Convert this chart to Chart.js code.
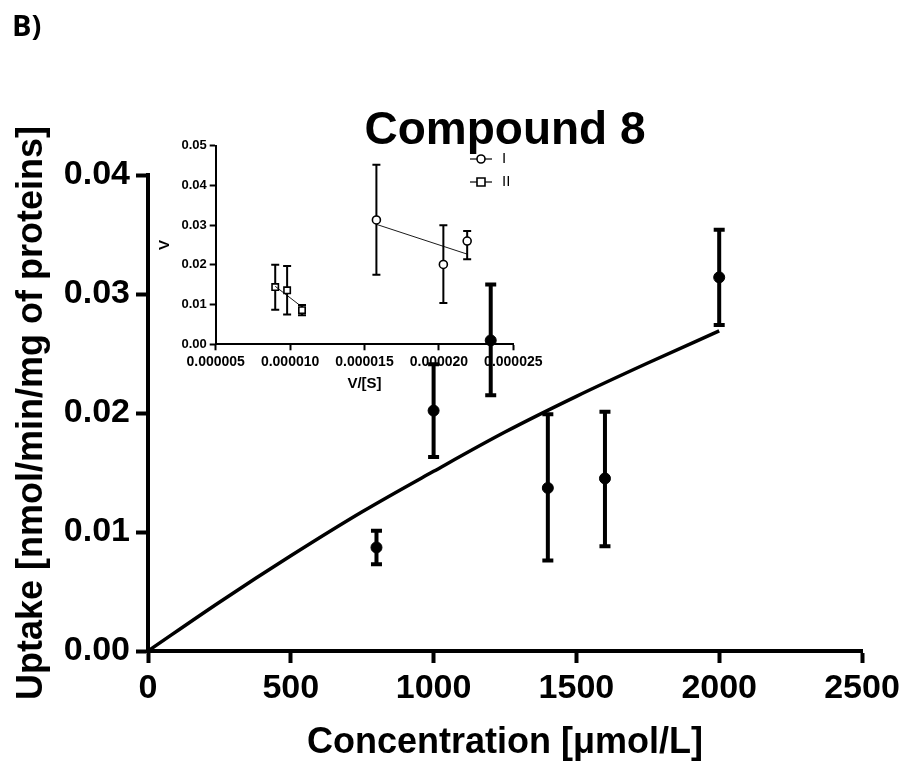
<!DOCTYPE html>
<html lang="en">
  <head>
    <meta charset="UTF-8" />
    <title>Compound 8 uptake</title>
    <script src="https://cdn.jsdelivr.net/npm/chart.js"></script>
    <style>
      body { margin: 0; background: #fff; }
      .wrap { position: relative; width: 907px; height: 771px; }
      #mainChart { position: absolute; left: 0; top: 0; }
      #insetChart { position: absolute; left: 150px; top: 130px; }
      .panel {
        position: absolute; left: 12px; top: 5px;
        font: bold 29px "Open Sans", sans-serif; color: #000;
      }
    </style>
  </head>
  <body>
    <div class="wrap">
      <canvas id="mainChart" width="907" height="771"></canvas>
      <canvas id="insetChart" width="400" height="270"></canvas>
      <div class="panel">B)</div>
    </div>

<script>
  // main plot: measured uptake (mean with error bars)
  const mainConc = [800, 1000, 1200, 1400, 1600, 2000];
  const mainUptake = [0.0087, 0.0202, 0.0261, 0.0137, 0.0145, 0.0314];
  const mainErrLow = [0.0073, 0.0163, 0.0215, 0.0076, 0.0088, 0.0274];
  const mainErrHigh = [0.0101, 0.0241, 0.0308, 0.0199, 0.0201, 0.0354];

  // fitted curve
  const curveConc = [0, 250, 500, 750, 1000, 1250, 1500, 1750, 2000];
  const curveUptake = [0, 0.0041, 0.0080, 0.0117, 0.0151, 0.0184, 0.0214, 0.0242, 0.0269];

  const mainXTicks = [0, 500, 1000, 1500, 2000, 2500];
  const mainYTicks = [0, 0.01, 0.02, 0.03, 0.04];

  // inset: V vs V/[S]
  const insetIX = [0.0000158, 0.0000203, 0.0000219];
  const insetIY = [0.0313, 0.0201, 0.0260];
  const insetILow = [0.0175, 0.0104, 0.0214];
  const insetIHigh = [0.0452, 0.0300, 0.0285];
  const fitIX = [0.0000158, 0.0000219];
  const fitIY = [0.0302, 0.0227];

  const insetIIX = [0.0000090, 0.0000098, 0.0000108];
  const insetIIY = [0.0144, 0.0136, 0.0086];
  const insetIILow = [0.0087, 0.0075, 0.0073];
  const insetIIHigh = [0.0200, 0.0197, 0.0099];
  const fitIIX = [0.0000090, 0.0000108];
  const fitIIY = [0.0146, 0.0094];

  const insetXTicks = [0.000005, 0.000010, 0.000015, 0.000020, 0.000025];
  const insetYTicks = [0, 0.01, 0.02, 0.03, 0.04, 0.05];

  const FONT = '"Liberation Sans", Arial, sans-serif';

  function pts(xs, ys) {
    return xs.map(function (x, i) { return { x: x, y: ys[i] }; });
  }

  // draws vertical error bars for datasets that carry errLow / errHigh
  const errorBars = {
    id: 'errorBars',
    beforeDatasetsDraw(chart) {
      const ctx = chart.ctx;
      const xs = chart.scales.x, ys = chart.scales.y;
      chart.data.datasets.forEach(function (ds) {
        if (!ds.errLow) return;
        ctx.save();
        ctx.strokeStyle = '#000';
        ctx.lineWidth = ds.errWidth;
        ctx.lineCap = 'butt';
        ds.data.forEach(function (p, i) {
          const px = xs.getPixelForValue(p.x);
          const lo = ys.getPixelForValue(ds.errLow[i]);
          const hi = ys.getPixelForValue(ds.errHigh[i]);
          ctx.beginPath();
          ctx.moveTo(px, lo); ctx.lineTo(px, hi);
          ctx.moveTo(px - ds.capHalf, lo); ctx.lineTo(px + ds.capHalf, lo);
          ctx.moveTo(px - ds.capHalf, hi); ctx.lineTo(px + ds.capHalf, hi);
          ctx.stroke();
        });
        ctx.restore();
      });
    }
  };

  // fixed axis box sizes so the plot areas land where the figure has them
  function fixWidth(w) { return function (s) { s.width = w; }; }
  function fixHeight(h) { return function (s) { s.height = h; }; }

  new Chart(document.getElementById('mainChart'), {
    type: 'scatter',
    data: {
      datasets: [
        {
          label: 'fit',
          data: pts(curveConc, curveUptake),
          showLine: true,
          borderColor: '#000',
          borderWidth: 3.5,
          pointRadius: 0,
          cubicInterpolationMode: 'monotone'
        },
        {
          label: 'uptake',
          data: pts(mainConc, mainUptake),
          errLow: mainErrLow,
          errHigh: mainErrHigh,
          errWidth: 4,
          capHalf: 5.5,
          backgroundColor: '#000',
          borderColor: '#000',
          pointRadius: 5.5,
          pointHoverRadius: 5.5
        }
      ]
    },
    options: {
      responsive: false,
      animation: false,
      events: [],
      layout: { padding: { left: 0, right: 45, top: 0, bottom: 0 } },
      plugins: {
        legend: { display: false },
        tooltip: { enabled: false },
        title: {
          display: true,
          fullSize: false,
          text: 'Compound 8',
          color: '#000',
          font: { family: FONT, size: 46, weight: 'bold' },
          padding: { top: 104, bottom: 15.8 }
        }
      },
      scales: {
        x: {
          type: 'linear',
          min: 0, max: 2500,
          afterFit: fixHeight(120),
          afterBuildTicks: function (s) { s.ticks = mainXTicks.map(function (v) { return { value: v }; }); },
          grid: { drawOnChartArea: false, drawTicks: true, tickLength: 12, tickWidth: 4, tickColor: '#000' },
          border: { display: true, color: '#000', width: 4 },
          ticks: {
            color: '#000', padding: 5,
            font: { family: FONT, size: 34, weight: 'bold' },
            callback: function (v) { return String(v); }
          },
          title: {
            display: true,
            text: 'Concentration [\u03bcmol/L]',
            color: '#000',
            font: { family: FONT, size: 36, weight: 'bold' },
            padding: { top: 0, bottom: 6.4 }
          }
        },
        y: {
          type: 'linear',
          min: 0, max: 0.04,
          afterFit: fixWidth(148),
          afterBuildTicks: function (s) { s.ticks = mainYTicks.map(function (v) { return { value: v }; }); },
          grid: { drawOnChartArea: false, drawTicks: true, tickLength: 12, tickWidth: 4, tickColor: '#000' },
          border: { display: true, color: '#000', width: 4 },
          ticks: {
            color: '#000', padding: 6,
            font: { family: FONT, size: 34, weight: 'bold' },
            callback: function (v) { return Number(v).toFixed(2); }
          },
          title: {
            display: true,
            text: 'Uptake [nmol/min/mg of proteins]',
            color: '#000',
            font: { family: FONT, size: 36, weight: 'bold' },
            padding: { top: 10, bottom: 0 }
          }
        }
      }
    },
    plugins: [errorBars]
  });

  // legend of the inset: line with marker, then the label
  const insetLegend = {
    id: 'insetLegend',
    afterDraw(chart) {
      const ctx = chart.ctx;
      const rows = chart.data.datasets.filter(function (d) { return d.inLegend; });
      ctx.save();
      rows.forEach(function (d, i) {
        const y = 29 + i * 23;
        ctx.strokeStyle = '#000';
        ctx.lineWidth = 1.2;
        ctx.beginPath();
        ctx.moveTo(320, y); ctx.lineTo(342, y);
        ctx.stroke();
        ctx.fillStyle = '#fff';
        ctx.lineWidth = 1.6;
        ctx.beginPath();
        if (d.pointStyle === 'rect') {
          ctx.rect(327, y - 4, 8, 8);
        } else {
          ctx.arc(331, y, 4, 0, Math.PI * 2);
        }
        ctx.fill();
        ctx.stroke();
        ctx.fillStyle = '#000';
        ctx.font = '15px ' + FONT;
        ctx.textBaseline = 'middle';
        ctx.fillText(d.label, 352, y);
      });
      ctx.restore();
    }
  };

  new Chart(document.getElementById('insetChart'), {
    type: 'scatter',
    data: {
      datasets: [
        {
          label: 'I fit',
          data: pts(fitIX, fitIY),
          showLine: true,
          borderColor: '#000',
          borderWidth: 0.9,
          pointRadius: 0
        },
        {
          label: 'II fit',
          data: pts(fitIIX, fitIIY),
          showLine: true,
          borderColor: '#000',
          borderWidth: 0.9,
          pointRadius: 0
        },
        {
          label: 'I',
          inLegend: true,
          data: pts(insetIX, insetIY),
          errLow: insetILow,
          errHigh: insetIHigh,
          errWidth: 2,
          capHalf: 4,
          pointStyle: 'circle',
          pointRadius: 4,
          backgroundColor: '#fff',
          borderColor: '#000',
          borderWidth: 1.6
        },
        {
          label: 'II',
          inLegend: true,
          data: pts(insetIIX, insetIIY),
          errLow: insetIILow,
          errHigh: insetIIHigh,
          errWidth: 2,
          capHalf: 4,
          pointStyle: 'rect',
          pointRadius: 4.5,
          backgroundColor: '#fff',
          borderColor: '#000',
          borderWidth: 1.6
        }
      ]
    },
    options: {
      responsive: false,
      animation: false,
      events: [],
      layout: { padding: { left: 0, right: 36.7, top: 15.7, bottom: 0 } },
      plugins: {
        legend: { display: false },
        tooltip: { enabled: false }
      },
      scales: {
        x: {
          type: 'linear',
          min: 0.000005, max: 0.000025,
          afterFit: fixHeight(55.7),
          afterBuildTicks: function (s) { s.ticks = insetXTicks.map(function (v) { return { value: v }; }); },
          grid: { drawOnChartArea: false, drawTicks: true, tickLength: 6, tickWidth: 2, tickColor: '#000' },
          border: { display: true, color: '#000', width: 2 },
          ticks: {
            color: '#000', padding: 3,
            font: { family: FONT, size: 14, weight: 'bold' },
            callback: function (v) { return Number(v).toFixed(6); }
          },
          title: {
            display: true,
            text: 'V/[S]',
            color: '#000',
            font: { family: FONT, size: 15, weight: 'bold' },
            padding: { top: 0, bottom: 7 }
          }
        },
        y: {
          type: 'linear',
          min: 0, max: 0.05,
          afterFit: fixWidth(65.7),
          afterBuildTicks: function (s) { s.ticks = insetYTicks.map(function (v) { return { value: v }; }); },
          grid: { drawOnChartArea: false, drawTicks: true, tickLength: 6, tickWidth: 2, tickColor: '#000' },
          border: { display: true, color: '#000', width: 2 },
          ticks: {
            color: '#000', padding: 3,
            font: { family: FONT, size: 13, weight: 'bold' },
            callback: function (v) { return Number(v).toFixed(2); }
          },
          title: {
            display: true,
            text: 'V',
            color: '#000',
            font: { family: FONT, size: 15, weight: 'bold' },
            padding: { top: 6, bottom: 0 }
          }
        }
      }
    },
    plugins: [errorBars, insetLegend]
  });
</script>
  </body>
</html>
